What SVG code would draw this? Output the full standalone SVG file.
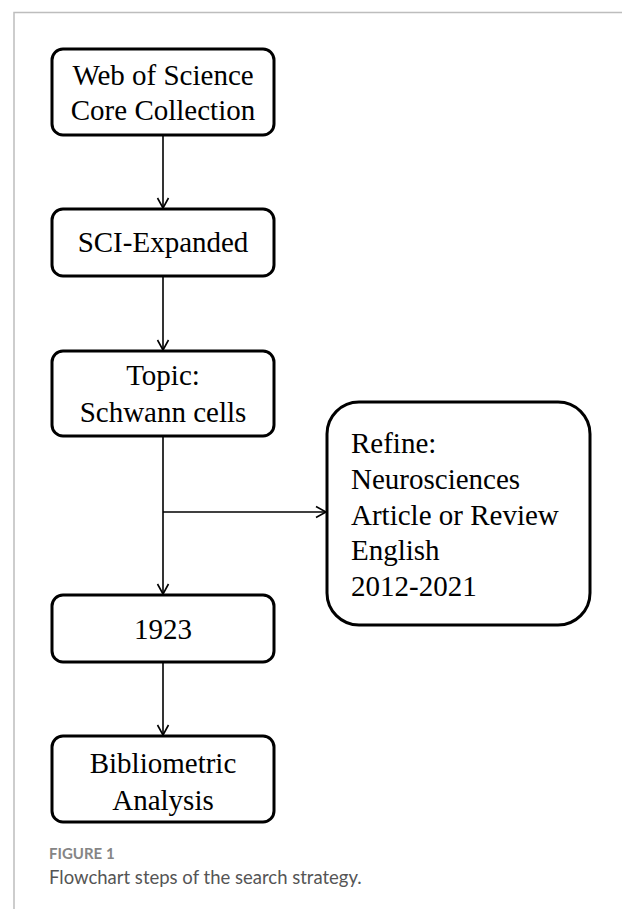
<svg xmlns="http://www.w3.org/2000/svg" width="622" height="909" viewBox="0 0 622 909">
<style>
.box{fill:#fff;stroke:#000;stroke-width:3}
.t{font-family:"Liberation Serif","Times New Roman",serif;font-size:29px;fill:#000}
.c{text-anchor:middle}
.ln{fill:none;stroke:#000;stroke-width:1.6}
.frame{fill:none;stroke:#bdbdbd;stroke-width:1.5}
.fig{font-family:Lato,"Open Sans",sans-serif;font-size:15px;font-weight:700;fill:#858585}
.cap{font-family:Lato,"Open Sans",sans-serif;font-size:18.5px;fill:#555}
</style>
<defs>
<marker id="ah" markerWidth="14" markerHeight="14" refX="12" refY="7" orient="auto" markerUnits="userSpaceOnUse">
<path d="M2,1.5 L12,7 L2,12.5" fill="none" stroke="#000" stroke-width="1.6"/>
</marker>
</defs>
<path class="frame" d="M14,909 V12.5 H622"/>
<g id="connectors">
<line class="ln" x1="163" y1="135" x2="163" y2="208" marker-end="url(#ah)"/>
<line class="ln" x1="163" y1="276" x2="163" y2="350" marker-end="url(#ah)"/>
<line class="ln" x1="163" y1="436" x2="163" y2="594" marker-end="url(#ah)"/>
<line class="ln" x1="163" y1="512" x2="326" y2="512" marker-end="url(#ah)"/>
<line class="ln" x1="163" y1="662" x2="163" y2="735" marker-end="url(#ah)"/>
</g>
<g id="wos">
<rect class="box" x="52" y="49" width="222" height="86" rx="11"/>
<text class="t c" x="163" y="85">Web of Science</text>
<text class="t c" x="163" y="120">Core Collection</text>
</g>
<g id="sci">
<rect class="box" x="52" y="209" width="222" height="67" rx="11"/>
<text class="t c" x="163" y="252">SCI-Expanded</text>
</g>
<g id="topic">
<rect class="box" x="52" y="351" width="222" height="85" rx="11"/>
<text class="t c" x="163" y="385">Topic:</text>
<text class="t c" x="163" y="422">Schwann cells</text>
</g>
<g id="refine">
<rect class="box" x="327" y="402" width="263" height="223" rx="32"/>
<text class="t" x="351" y="453">Refine:</text>
<text class="t" x="351" y="489">Neurosciences</text>
<text class="t" x="351" y="525">Article or Review</text>
<text class="t" x="351" y="560">English</text>
<text class="t" x="351" y="596">2012-2021</text>
</g>
<g id="n1923">
<rect class="box" x="52" y="595" width="222" height="67" rx="11"/>
<text class="t c" x="163" y="639">1923</text>
</g>
<g id="biblio">
<rect class="box" x="52" y="736" width="222" height="86" rx="11"/>
<text class="t c" x="163" y="773">Bibliometric</text>
<text class="t c" x="163" y="810">Analysis</text>
</g>
<g id="caption">
<text class="fig" x="49" y="859">FIGURE 1</text>
<text class="cap" x="49" y="884">Flowchart steps of the search strategy.</text>
</g>
</svg>
